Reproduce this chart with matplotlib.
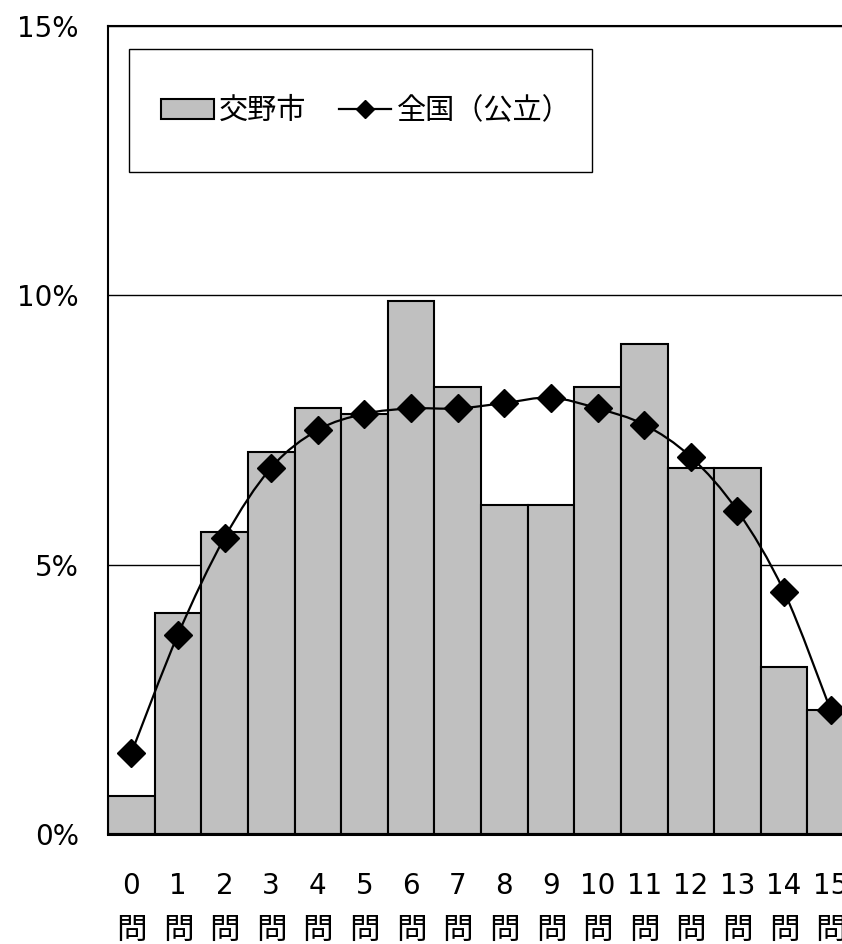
import matplotlib
matplotlib.use("Agg")
import matplotlib.pyplot as plt
from matplotlib.path import Path
from matplotlib.patches import PathPatch, Rectangle
from matplotlib.lines import Line2D
from matplotlib.patches import Patch
import numpy as np

plt.rcParams['font.family'] = ['DejaVu Sans', 'Noto Sans CJK JP']

questions = list(range(16))
tick_numbers = [str(q) for q in questions]
katano = [0.7, 4.1, 5.6, 7.1, 7.9, 7.8, 9.9, 8.3, 6.1, 6.1, 8.3, 9.1, 6.8, 6.8, 3.1, 2.3]
national = [1.5, 3.7, 5.5, 6.8, 7.5, 7.8, 7.9, 7.9, 8.0, 8.1, 7.9, 7.6, 7.0, 6.0, 4.5, 2.3]
series_names = ['交野市', '全国（公立）']
unit_label = '問'

W, H = 842, 944
fig = plt.figure(figsize=(W / 100, H / 100), dpi=100)
ax = fig.add_axes([108 / W, 1 - 834 / H, 746 / W, 808 / H])

x = np.array(questions, dtype=float)
ax.bar(x, katano, width=1.0, color='#c0c0c0', edgecolor='black', linewidth=1.5, zorder=2)

# smoothed national curve (cubic Bezier through every point)
pts = np.column_stack([x, national])
verts = [tuple(pts[0])]
codes = [Path.MOVETO]
n = len(pts)
for i in range(n - 1):
    p0 = pts[i - 1] if i > 0 else pts[i]
    p1 = pts[i]
    p2 = pts[i + 1]
    p3 = pts[i + 2] if i + 2 < n else pts[i + 1]
    c1 = p1 + (p2 - p0) / 6.0
    c2 = p2 - (p3 - p1) / 6.0
    verts += [tuple(c1), tuple(c2), tuple(p2)]
    codes += [Path.CURVE4] * 3
ax.add_patch(PathPatch(Path(verts, codes), fill=False, edgecolor='black', linewidth=1.6, zorder=3))
ax.plot(x, national, linestyle='none', marker='D', markersize=14, color='black', zorder=4)

ax.set_xlim(-0.5, 15.5)
ax.set_ylim(0, 15)
ax.set_yticks([0, 5, 10, 15])
ax.set_yticklabels(['0%', '5%', '10%', '15%'], fontsize=20)
ax.set_xticks(x)
ax.set_xticklabels(tick_numbers, fontsize=20)
ax.tick_params(axis='both', length=0)
ax.tick_params(axis='y', pad=21)
ax.tick_params(axis='x', pad=27)
for xi in x:
    ax.text(xi, -0.119, unit_label, transform=ax.get_xaxis_transform(), ha='center', va='center',
            fontsize=22, family=['Noto Sans CJK JP', 'DejaVu Sans'], clip_on=False)

ax.yaxis.grid(True, color='black', linewidth=1.0)
ax.set_axisbelow(True)
for side in ['left', 'top', 'right']:
    ax.spines[side].set_linewidth(1.5)
ax.spines['bottom'].set_linewidth(2.2)

# legend
handles = [Patch(facecolor='#c0c0c0', edgecolor='black', linewidth=1.5),
           Line2D([], [], color='black', linewidth=1.6, marker='D', markersize=9)]
leg = fig.legend(handles, series_names, loc='center left', ncol=2, frameon=False,
                 bbox_to_anchor=(161 / W, 1 - 111 / H), bbox_transform=fig.transFigure,
                 borderpad=0, borderaxespad=0, handlelength=1.8,
                 handletextpad=0.2, columnspacing=1.1,
                 prop={'family': ['Noto Sans CJK JP', 'DejaVu Sans'], 'size': 21})
fig.patches.append(Rectangle((129 / W, 1 - 172 / H), (592 - 129) / W, (172 - 49) / H,
                             transform=fig.transFigure, fill=True, facecolor='white',
                             edgecolor='black', linewidth=1.0, zorder=5))
leg.set_zorder(6)

fig.savefig('out.png', dpi=100)
